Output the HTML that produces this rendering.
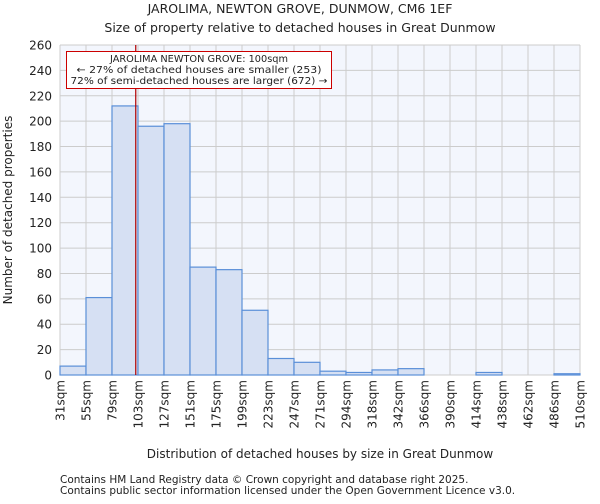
<!DOCTYPE html>
<html><head><meta charset="utf-8"><style>
body{margin:0;background:#fff;font-family:"DejaVu Sans","Liberation Sans",sans-serif;}
svg text{font-family:"DejaVu Sans","Liberation Sans",sans-serif;fill:#222;}
</style></head><body>
<svg id="chart" width="600" height="500" xmlns="http://www.w3.org/2000/svg">
<text x="300" y="13" font-size="12.5" text-anchor="middle">JAROLIMA, NEWTON GROVE, DUNMOW, CM6 1EF</text>
<text x="300" y="32" font-size="12.5" text-anchor="middle">Size of property relative to detached houses in Great Dunmow</text>
<rect x="60" y="45" width="520" height="330" fill="#f3f6fd"/>
<g id="grid"></g>
<g id="bars"></g>
<g id="yticks"></g>
<g id="xticks"></g>
<line id="marker" y1="45" y2="375" stroke="#b00000" stroke-width="1.2"/>
<g>
<rect x="66.5" y="51.5" width="265" height="37" fill="#fff" stroke="#cc0000" stroke-width="1"/>
<text x="199" y="62" font-size="10" text-anchor="middle" textLength="178" lengthAdjust="spacingAndGlyphs">JAROLIMA NEWTON GROVE: 100sqm</text>
<text x="199" y="73" font-size="10" text-anchor="middle" textLength="245" lengthAdjust="spacingAndGlyphs">← 27% of detached houses are smaller (253)</text>
<text x="199" y="84" font-size="10" text-anchor="middle" textLength="257" lengthAdjust="spacingAndGlyphs">72% of semi-detached houses are larger (672) →</text>
</g>
<text transform="translate(12,210) rotate(-90)" font-size="12" text-anchor="middle">Number of detached properties</text>
<text x="320" y="458" font-size="12" text-anchor="middle">Distribution of detached houses by size in Great Dunmow</text>
<text x="60" y="483" font-size="10.5" fill="#444">Contains HM Land Registry data © Crown copyright and database right 2025.</text>
<text x="60" y="494" font-size="10.5" fill="#444">Contains public sector information licensed under the Open Government Licence v3.0.</text>
</svg>
<script>
const binLabels=["31sqm","55sqm","79sqm","103sqm","127sqm","151sqm","175sqm","199sqm","223sqm","247sqm","271sqm","294sqm","318sqm","342sqm","366sqm","390sqm","414sqm","438sqm","462sqm","486sqm","510sqm"];
const counts=[7,61,212,196,198,85,83,51,13,10,3,2,4,5,0,0,2,0,0,1];
const yTicks=[0,20,40,60,80,100,120,140,160,180,200,220,240,260];
const markerValue=100;
const binEdges=[31,55,79,103,127,151,175,199,223,247,271,294,318,342,366,390,414,438,462,486,510];
const NS="http://www.w3.org/2000/svg";
const x0=60,x1=580,y0=375,y1=45,ymax=260;
const bw=(x1-x0)/counts.length;
const xs=i=>x0+i*bw;
const ys=v=>y0-(v/ymax)*(y0-y1);
function mk(t,a,p){const e=document.createElementNS(NS,t);for(const k in a)e.setAttribute(k,a[k]);p.appendChild(e);return e;}
const grid=document.getElementById('grid'),bars=document.getElementById('bars'),yt=document.getElementById('yticks'),xt=document.getElementById('xticks');
yTicks.forEach(v=>{
 const l=mk('line',{x1:x0,x2:x1,y1:ys(v),y2:ys(v),stroke:'#cccccc','stroke-width':1},grid);
 
 
 const t=mk('text',{x:x0-8,y:ys(v)+4.5,'font-size':12,'text-anchor':'end'},yt);
 t.textContent=v;
 
 
});
binLabels.forEach((lab,i)=>{
 const l=mk('line',{x1:xs(i),x2:xs(i),y1:y1,y2:y0,stroke:'#cccccc','stroke-width':1},grid);
 
 
 const t=mk('text',{transform:`translate(${xs(i)+4.5},380) rotate(-90)`,'font-size':12,'text-anchor':'end'},xt);
 t.textContent=lab;
 
 
});
counts.forEach((c,i)=>{
 if(c<=0)return;
 const r=mk('rect',{x:xs(i),y:ys(c),width:bw,height:y0-ys(c),fill:'#d6e0f3',stroke:'#5a8fd8','stroke-width':1.2},bars);
 
 
});
let k=0;while(k<binEdges.length-2&&binEdges[k+1]<markerValue)k++;
const mx=xs(k)+bw*(markerValue-binEdges[k])/(binEdges[k+1]-binEdges[k])+1;
const m=document.getElementById('marker');m.setAttribute('x1',mx);m.setAttribute('x2',mx);
</script>
</body></html>
